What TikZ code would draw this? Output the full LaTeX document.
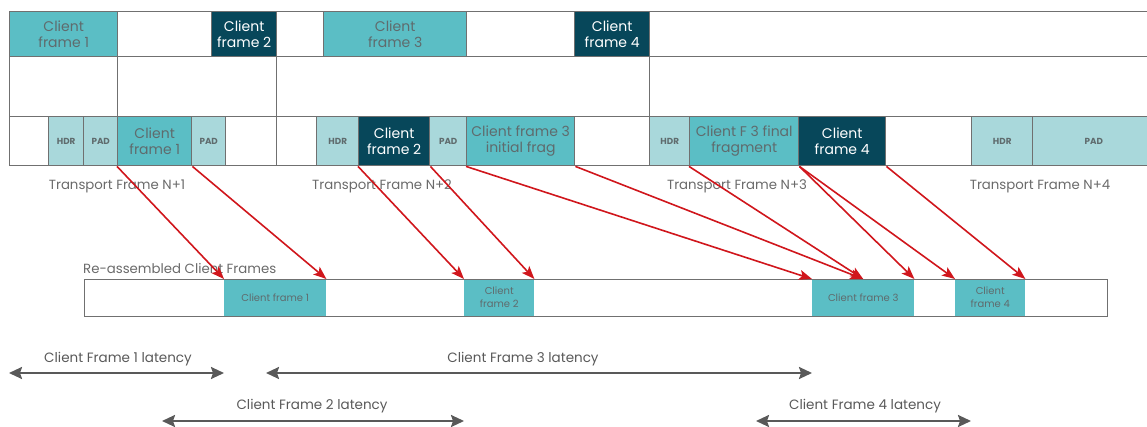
\documentclass[tikz,border=0pt]{standalone}
\usepackage{fontspec}
\setmainfont{Poppins}
\usetikzlibrary{arrows.meta}
\definecolor{tealA}{HTML}{5BBEC5}
\definecolor{darkA}{HTML}{07475A}
\definecolor{lightA}{HTML}{A9D8DB}
\definecolor{gridA}{HTML}{707070}
\definecolor{txtA}{HTML}{5F6B6D}
\definecolor{redA}{HTML}{D0161C}
\definecolor{arrA}{HTML}{595959}
\definecolor{labA}{HTML}{6A6A6A}
\begin{document}
\begin{tikzpicture}[x=1pt,y=-1pt,
  cell/.style={draw=gridA, line width=1.4pt, anchor=north west, inner sep=0pt,
    align=center, font=\fontsize{14}{16.5}\selectfont, text=txtA},
  tc/.style={cell, fill=tealA},
  dc/.style={cell, fill=darkA, text=white},
  wc/.style={cell, fill=white},
  lc/.style={cell, fill=lightA, font=\fontsize{8.8}{10}\selectfont\bfseries, text=txtA},
  rcell/.style={fill=tealA, anchor=north west, inner sep=0pt, align=center,
    font=\fontsize{10}{13}\selectfont, text=txtA},
  tlabel/.style={font=\fontsize{13.3}{15}\selectfont, text=labA},
  latlabel/.style={font=\fontsize{13.5}{15}\selectfont, text=arrA},
  redarr/.style={draw=redA, line width=1.6pt, -{Stealth[length=13pt,width=10pt,inset=3pt]}},
  latarr/.style={draw=arrA, line width=2.2pt, {Stealth[length=13pt,width=12pt,inset=2pt]}-{Stealth[length=13pt,width=12pt,inset=2pt]}}
]
\useasboundingbox (0,0) rectangle (1147,427);
\clip (0,0) rectangle (1147,427);
% top row (y 11-56)
\node[tc, minimum width=108, minimum height=45] (t1) at (9,11) {Client\\frame 1};
\node[wc, minimum width=94, minimum height=45] (tw1) at (117,11) {};
\node[dc, minimum width=65, minimum height=45] (t2) at (211,11) {Client\\frame 2};
\node[wc, minimum width=47, minimum height=45] (tw2) at (276,11) {};
\node[tc, minimum width=143, minimum height=45] (t3) at (323,11) {Client\\frame 3};
\node[wc, minimum width=108, minimum height=45] (tw3) at (466,11) {};
\node[dc, minimum width=75, minimum height=45] (t4) at (574,11) {Client\\frame 4};
\node[wc, minimum width=505, minimum height=45] (tw4) at (649,11) {};
% middle row (y 56-116)
\node[wc, minimum width=108, minimum height=60] (m1) at (9,56) {};
\node[wc, minimum width=159, minimum height=60] (m2) at (117,56) {};
\node[wc, minimum width=373, minimum height=60] (m3) at (276,56) {};
\node[wc, minimum width=505, minimum height=60] (m4) at (649,56) {};
% bottom row (y 116-165)
\node[wc, minimum width=39, minimum height=49] (b0) at (9,116) {};
\node[lc, minimum width=35, minimum height=49] (b1) at (48,116) {HDR};
\node[lc, minimum width=34, minimum height=49] (b2) at (83,116) {PAD};
\node[tc, minimum width=74, minimum height=49] (b3) at (117,116) {Client\\frame 1};
\node[lc, minimum width=34, minimum height=49] (b4) at (191,116) {PAD};
\node[wc, minimum width=51, minimum height=49] (b5) at (225,116) {};
\node[wc, minimum width=40, minimum height=49] (b6) at (276,116) {};
\node[lc, minimum width=42, minimum height=49] (b7) at (316,116) {HDR};
\node[dc, minimum width=71, minimum height=49] (b8) at (358,116) {Client\\frame 2};
\node[lc, minimum width=37, minimum height=49] (b9) at (429,116) {PAD};
\node[tc, minimum width=108, minimum height=49] (b10) at (466,116) {Client frame 3\\initial frag};
\node[wc, minimum width=75, minimum height=49] (b11) at (574,116) {};
\node[lc, minimum width=40, minimum height=49] (b12) at (649,116) {HDR};
\node[tc, minimum width=109, minimum height=49] (b13) at (689,116) {Client F 3 final\\fragment};
\node[dc, minimum width=87, minimum height=49] (b14) at (798,116) {Client\\frame 4};
\node[wc, minimum width=86, minimum height=49] (b15) at (885,116) {};
\node[lc, minimum width=61, minimum height=49] (b16) at (971,116) {HDR};
\node[lc, minimum width=122, minimum height=49] (b17) at (1032,116) {PAD};
% transport frame labels
\node[tlabel] (tf1) at (117,186) {Transport Frame N+1};
\node[tlabel] (tf2) at (382,186) {Transport Frame N+2};
\node[tlabel] (tf3) at (737,186) {Transport Frame N+3};
\node[tlabel] (tf4) at (1040,186) {Transport Frame N+4};
% reassembled bar
\node[tlabel, anchor=west, inner sep=0pt] (ralabel) at (83,268) {Re-assembled Client Frames};
\node[rcell, minimum width=102, minimum height=37] (r1) at (224,279) {Client frame 1};
\node[rcell, minimum width=70, minimum height=37] (r2) at (464,279) {Client\\frame 2};
\node[rcell, minimum width=102, minimum height=37] (r3) at (812,279) {Client frame 3};
\node[rcell, minimum width=70, minimum height=37] (r4) at (955,279) {Client\\frame 4};
\node[draw=gridA, line width=1.4pt, anchor=north west, inner sep=0pt, minimum width=1023, minimum height=37] (rbar) at (84,279) {};
% red arrows
\draw[redarr] (b3.south west) -- (r1.north west);
\draw[redarr] (b3.south east) -- (r1.north east);
\draw[redarr] (b8.south west) -- (r2.north west);
\draw[redarr] (b8.south east) -- (r2.north east);
\draw[redarr] (b10.south west) -- (r3.north west);
\draw[redarr] (b10.south east) -- (r3.north);
\draw[redarr] (b13.south west) -- (r3.north);
\draw[redarr] (b13.south east) -- (r3.north east);
\draw[redarr] (b13.south east) -- (r4.north west);
\draw[redarr] (b14.south east) -- (r4.north east);
% latency arrows
\coordinate (l1a) at (9,373);   \coordinate (l1b) at (224,373);
\coordinate (l3a) at (266,373); \coordinate (l3b) at (812,373);
\coordinate (l2a) at (162,421); \coordinate (l2b) at (464,421);
\coordinate (l4a) at (756,421); \coordinate (l4b) at (971,421);
\draw[latarr] (l1a) -- (l1b);
\draw[latarr] (l3a) -- (l3b);
\draw[latarr] (l2a) -- (l2b);
\draw[latarr] (l4a) -- (l4b);
\node[latlabel] (lt1) at (118,359) {Client Frame 1 latency};
\node[latlabel] (lt3) at (523,359) {Client Frame 3 latency};
\node[latlabel] (lt2) at (312,406) {Client Frame 2 latency};
\node[latlabel] (lt4) at (865,406) {Client Frame 4 latency};
\end{tikzpicture}
\end{document}
